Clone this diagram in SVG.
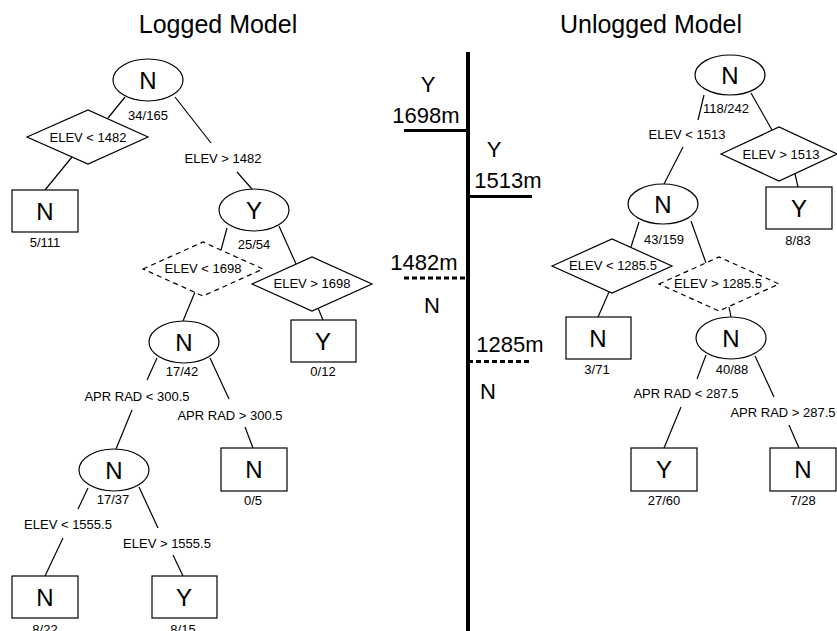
<svg xmlns="http://www.w3.org/2000/svg" width="837" height="631" viewBox="0 0 837 631">
<style>
text{font-family:"Liberation Sans",Arial,sans-serif;fill:#000;text-anchor:middle}
.t{font-size:25px}
.big{font-size:24px}
.s{font-size:13px}
.m{font-size:22px}
.sh{fill:#fff;stroke:#000;stroke-width:1.2}
.dash{fill:#fff;stroke:#000;stroke-width:1.2;stroke-dasharray:5 4}
.c line{stroke:#000;stroke-width:1.2}
.scale line{stroke:#000}
</style>
<rect width="837" height="631" fill="#fff"/>
<text class="t" x="218" y="33">Logged Model</text>
<text class="t" x="651" y="33">Unlogged Model</text>

<g id="scale" class="scale">
<line x1="468" y1="52" x2="468" y2="631" stroke-width="4"/>
<line x1="404" y1="130.5" x2="468" y2="130.5" stroke-width="3"/>
<line x1="468" y1="196.5" x2="532" y2="196.5" stroke-width="3"/>
<line x1="404" y1="278" x2="468" y2="278" stroke-width="3" stroke-dasharray="5 3"/>
<line x1="468" y1="361.5" x2="532" y2="361.5" stroke-width="3" stroke-dasharray="5 3"/>
<text class="m" x="428" y="92">Y</text>
<text class="m" x="426" y="123">1698m</text>
<text class="m" x="494" y="157">Y</text>
<text class="m" x="508" y="188">1513m</text>
<text class="m" x="424" y="270">1482m</text>
<text class="m" x="432" y="313">N</text>
<text class="m" x="510" y="352">1285m</text>
<text class="m" x="488" y="399">N</text>
</g>

<g id="connectors" class="c">
<line x1="125" y1="97" x2="108" y2="118"/>
<line x1="72" y1="157" x2="45" y2="190"/>
<line x1="175" y1="97" x2="211" y2="143"/>
<line x1="237" y1="172" x2="252" y2="189"/>
<line x1="227" y1="228" x2="221" y2="250"/>
<line x1="279" y1="226" x2="296" y2="264"/>
<line x1="318" y1="308" x2="323" y2="320"/>
<line x1="195" y1="292" x2="183" y2="321"/>
<line x1="157" y1="358" x2="147" y2="380"/>
<line x1="132" y1="410" x2="116" y2="449"/>
<line x1="210" y1="358" x2="229" y2="399"/>
<line x1="245" y1="427" x2="253" y2="448"/>
<line x1="88" y1="488" x2="78" y2="509"/>
<line x1="63" y1="538" x2="45" y2="576"/>
<line x1="139" y1="487" x2="158" y2="528"/>
<line x1="173" y1="555" x2="183" y2="576"/>
<line x1="704" y1="95" x2="698" y2="120"/>
<line x1="683" y1="147" x2="664" y2="184"/>
<line x1="751" y1="93" x2="772" y2="130"/>
<line x1="795" y1="174" x2="798" y2="187"/>
<line x1="639" y1="222" x2="631" y2="247"/>
<line x1="609" y1="292" x2="598" y2="317"/>
<line x1="691" y1="221" x2="706" y2="263"/>
<line x1="729" y1="307" x2="731" y2="317"/>
<line x1="706" y1="355" x2="697" y2="379"/>
<line x1="681" y1="407" x2="664" y2="448"/>
<line x1="755" y1="356" x2="774" y2="397"/>
<line x1="789" y1="425" x2="799" y2="448"/>
</g>

<g id="edge-labels">
<text class="s" x="223" y="163">ELEV &gt; 1482</text>
<text class="s" x="137" y="401">APR RAD &lt; 300.5</text>
<text class="s" x="230" y="420">APR RAD &gt; 300.5</text>
<text class="s" x="68" y="529">ELEV &lt; 1555.5</text>
<text class="s" x="167" y="548">ELEV &gt; 1555.5</text>
<text class="s" x="687" y="139">ELEV &lt; 1513</text>
<text class="s" x="686" y="398">APR RAD &lt; 287.5</text>
<text class="s" x="783" y="417">APR RAD &gt; 287.5</text>
</g>

<g id="L-root"><ellipse class="sh" cx="148" cy="80" rx="35" ry="21"/><text class="big" x="148" y="89">N</text><text class="s" x="148" y="120">34/165</text></g>
<g id="L-d1"><polygon class="sh" points="27,137 88,110 148,137 88,164"/><text class="s" x="88" y="142">ELEV &lt; 1482</text></g>
<g id="L-leaf1"><rect class="sh" x="12" y="190" width="66" height="42"/><text class="big" x="45" y="220">N</text><text class="s" x="45" y="247">5/111</text></g>
<g id="L-Y"><ellipse class="sh" cx="254" cy="210" rx="35" ry="21"/><text class="big" x="254" y="219">Y</text><text class="s" x="254" y="249">25/54</text></g>
<g id="L-d2"><polygon class="dash" points="143,269 203,242 263,269 203,296"/><text class="s" x="203" y="273">ELEV &lt; 1698</text></g>
<g id="L-d3"><polygon class="sh" points="252,284 312,257 372,284 312,311"/><text class="s" x="312" y="288">ELEV &gt; 1698</text></g>
<g id="L-leaf2"><rect class="sh" x="291" y="320" width="65" height="42"/><text class="big" x="323" y="350">Y</text><text class="s" x="323" y="376">0/12</text></g>
<g id="L-N2"><ellipse class="sh" cx="184" cy="342" rx="35" ry="21"/><text class="big" x="184" y="351">N</text><text class="s" x="182" y="376">17/42</text></g>
<g id="L-leaf3"><rect class="sh" x="221" y="448" width="66" height="43"/><text class="big" x="254" y="478">N</text><text class="s" x="253" y="505">0/5</text></g>
<g id="L-N3"><ellipse class="sh" cx="114" cy="470" rx="35" ry="21"/><text class="big" x="114" y="479">N</text><text class="s" x="113" y="504">17/37</text></g>
<g id="L-leaf4"><rect class="sh" x="12" y="576" width="66" height="42"/><text class="big" x="45" y="606">N</text><text class="s" x="45" y="634">8/22</text></g>
<g id="L-leaf5"><rect class="sh" x="152" y="576" width="65" height="42"/><text class="big" x="184" y="606">Y</text><text class="s" x="183" y="634">8/15</text></g>

<g id="R-root"><ellipse class="sh" cx="730" cy="75" rx="35" ry="20"/><text class="big" x="730" y="84">N</text><text class="s" x="726" y="113">118/242</text></g>
<g id="R-d1"><polygon class="sh" points="721,154 779,127 837,154 779,181"/><text class="s" x="781" y="159">ELEV &gt; 1513</text></g>
<g id="R-leaf1"><rect class="sh" x="766" y="187" width="66" height="42"/><text class="big" x="799" y="217">Y</text><text class="s" x="798" y="245">8/83</text></g>
<g id="R-N2"><ellipse class="sh" cx="663" cy="204" rx="35" ry="20"/><text class="big" x="663" y="213">N</text><text class="s" x="664" y="244">43/159</text></g>
<g id="R-d2"><polygon class="sh" points="552,266 612,239 672,266 612,293"/><text class="s" x="613" y="270">ELEV &lt; 1285.5</text></g>
<g id="R-leaf2"><rect class="sh" x="566" y="317" width="65" height="42"/><text class="big" x="598" y="347">N</text><text class="s" x="597" y="374">3/71</text></g>
<g id="R-d3"><polygon class="dash" points="659,284 719,257 779,284 719,311"/><text class="s" x="718" y="288">ELEV &gt; 1285.5</text></g>
<g id="R-N3"><ellipse class="sh" cx="731" cy="338" rx="35" ry="21"/><text class="big" x="731" y="347">N</text><text class="s" x="732" y="374">40/88</text></g>
<g id="R-leaf3"><rect class="sh" x="631" y="448" width="66" height="43"/><text class="big" x="664" y="478">Y</text><text class="s" x="664" y="505">27/60</text></g>
<g id="R-leaf4"><rect class="sh" x="770" y="448" width="66" height="43"/><text class="big" x="803" y="478">N</text><text class="s" x="803" y="505">7/28</text></g>
</svg>
